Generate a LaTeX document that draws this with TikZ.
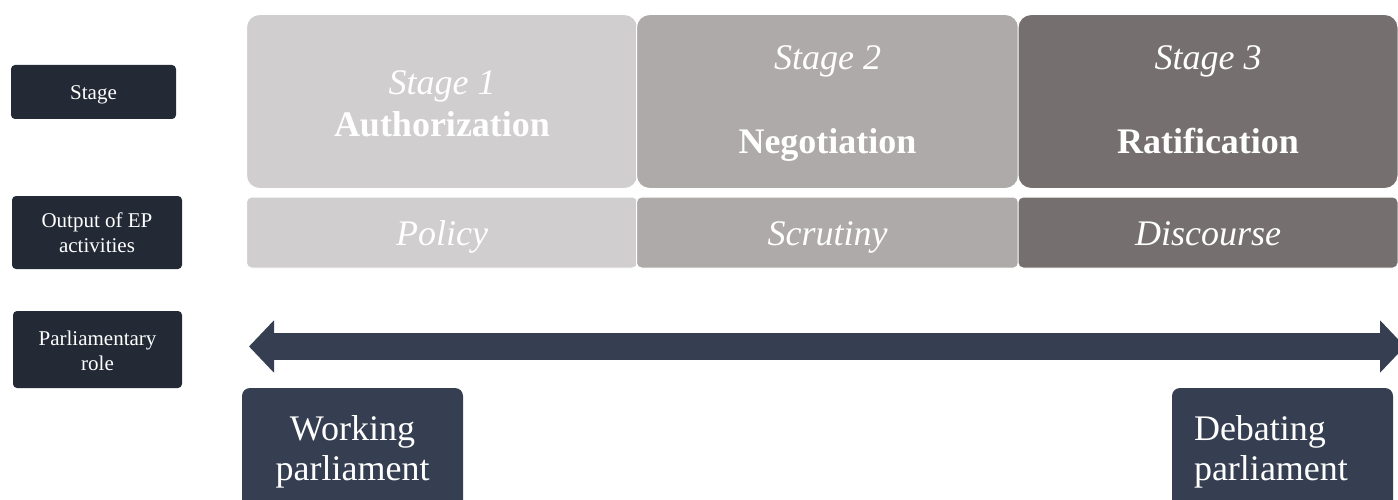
\documentclass[tikz,border=0pt]{standalone}
\usepackage{fontspec}
\setmainfont{Liberation Serif}
\usetikzlibrary{arrows.meta}
\definecolor{stageA}{HTML}{D0CECF}
\definecolor{stageB}{HTML}{AEAAA9}
\definecolor{stageC}{HTML}{75706F}
\definecolor{labelbg}{HTML}{232A36}
\definecolor{rolebg}{HTML}{353F51}
\tikzset{roletip/.tip={Triangle[length=25pt,width=51pt]}}

\begin{document}
\begin{tikzpicture}[x=1pt,y=-1pt,
  rowlabel/.style={fill=labelbg, rounded corners=4pt, text=white, align=center,
    font=\fontsize{21}{24.5}\selectfont, inner sep=0pt},
  stagebox/.style={draw=white, line width=1pt, rounded corners=13pt, text=white,
    align=center, font=\fontsize{36}{42}\selectfont, inner sep=0pt,
    minimum width=382pt, minimum height=174pt, text depth=12.6pt},
  outbox/.style={draw=white, line width=1pt, rounded corners=5pt, text=white,
    align=center, font=\fontsize{36}{42}\selectfont\itshape, inner sep=0pt,
    minimum width=382pt, minimum height=71pt, text height=30pt, text depth=5pt},
  rolebox/.style={fill=rolebg, rounded corners=8pt, text=white,
    font=\fontsize{36}{40}\selectfont, inner xsep=22pt, inner ysep=0pt,
    text width=177pt, minimum height=127pt}
]
\useasboundingbox (0,0) rectangle (1398,500);

% row labels on the left
\node[rowlabel, minimum width=165pt, minimum height=54pt, text height=20pt, text depth=4pt]
  (lstage) at (93.5,92) {Stage};
\node[rowlabel, minimum width=170pt, minimum height=73pt] (loutput) at (97,232.5)
  {Output of EP\\activities};
\node[rowlabel, minimum width=169pt, minimum height=77pt, text height=44pt, text depth=3pt]
  (lrole) at (97.5,349.5) {Parliamentary\\role};

% the three stages
\node[stagebox, fill=stageA, minimum width=391pt, text height=83.6pt] (s1) at (442,101.5)
  {{\itshape Stage 1}\strut\\{\bfseries Authorization}\strut};
\node[stagebox, fill=stageB, text height=116.6pt] (s2) at (827.5,101.5)
  {{\itshape Stage 2}\strut\\[42pt]{\bfseries Negotiation}\strut};
\node[stagebox, fill=stageC, minimum width=380pt, text height=116.6pt] (s3) at (1208,101.5)
  {{\itshape Stage 3}\strut\\[42pt]{\bfseries Ratification}\strut};

% output of each stage
\node[outbox, fill=stageA, minimum width=391pt] (o1) at (442,232.5) {Policy};
\node[outbox, fill=stageB] (o2) at (827.5,232.5) {Scrutiny};
\node[outbox, fill=stageC, minimum width=380pt] (o3) at (1208,232.5) {Discourse};

% parliamentary role continuum
\coordinate (aL) at (249,346.5);
\coordinate (aR) at (1405,346.5);
\draw[rolebg, line width=27pt, {roletip}-{roletip}] (aL) -- (aR);

\node[rolebox, align=center] (work) at (352.5,451.5) {Working\\parliament};
\node[rolebox, align=left] (debate) at (1282.5,451.5) {Debating\\parliament};
\end{tikzpicture}
\end{document}
